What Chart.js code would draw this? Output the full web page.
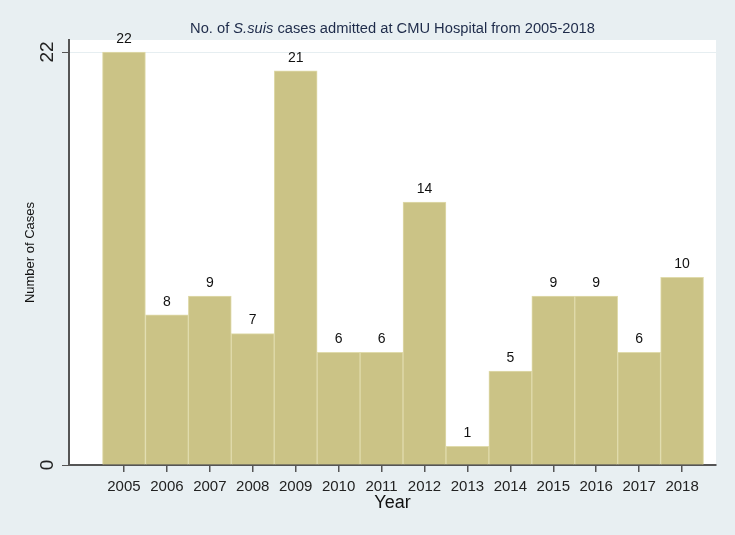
<!DOCTYPE html>
<html>
<head>
<meta charset="utf-8">
<script src="https://cdn.jsdelivr.net/npm/chart.js@4"></script>
<style>
  body { margin: 0; background: #e8eff2; }
</style>
</head>
<body>
<canvas id="myChart" width="735" height="535"></canvas>
<script>
const years = [2005, 2006, 2007, 2008, 2009, 2010, 2011, 2012, 2013, 2014, 2015, 2016, 2017, 2018];
const cases = [22, 8, 9, 7, 21, 6, 6, 14, 1, 5, 9, 9, 6, 10];
const yTicks = [0, 22];

const FONT = "'Liberation Sans', Arial, sans-serif";

// background + white plot region
const bgPlugin = {
    id: 'bg',
    beforeDraw: (chart) => {
        const ctx = chart.ctx;
        const a = chart.chartArea;
        ctx.save();
        ctx.fillStyle = '#e8eff2';
        ctx.fillRect(0, 0, chart.width, chart.height);
        ctx.fillStyle = '#ffffff';
        ctx.fillRect(a.left, a.top, a.right - a.left, a.bottom - a.top);
        ctx.restore();
    }
};

// title with italic species name, bar value labels, rotated y tick labels
const textPlugin = {
    id: 'texts',
    afterDraw: (chart) => {
        const ctx = chart.ctx;
        const a = chart.chartArea;
        ctx.save();

        // title
        const parts = [
            ['No. of ', 'normal'],
            ['S.suis', 'italic'],
            [' cases admitted at CMU Hospital from 2005-2018', 'normal']
        ];
        let total = 0;
        parts.forEach(p => {
            ctx.font = p[1] + ' 14.7px ' + FONT;
            total += ctx.measureText(p[0]).width;
        });
        let x = (a.left + a.right) / 2 - total / 2;
        ctx.fillStyle = '#1e2b4a';
        ctx.textBaseline = 'middle';
        ctx.textAlign = 'left';
        parts.forEach(p => {
            ctx.font = p[1] + ' 14.7px ' + FONT;
            ctx.fillText(p[0], x, 29);
            x += ctx.measureText(p[0]).width;
        });

        // values over bars
        const meta = chart.getDatasetMeta(0);
        ctx.font = '14px ' + FONT;
        ctx.fillStyle = '#111';
        ctx.textAlign = 'center';
        ctx.textBaseline = 'bottom';
        meta.data.forEach((bar, i) => {
            ctx.fillText(String(cases[i]), bar.x, bar.y - 6);
        });

        // y tick labels, reading bottom to top
        const ys = chart.scales.y;
        ctx.font = '19px ' + FONT;
        ctx.fillStyle = '#222';
        ctx.textBaseline = 'middle';
        yTicks.forEach(v => {
            ctx.save();
            ctx.translate(48, ys.getPixelForValue(v));
            ctx.rotate(-Math.PI / 2);
            ctx.fillText(String(v), 0, 0);
            ctx.restore();
        });
        ctx.restore();
    }
};

const data = {
    datasets: [{
        label: 'Cases',
        data: years.map((yr, i) => ({ x: yr, y: cases[i] })),
        backgroundColor: '#cbc386',
        borderColor: '#e0dbac',
        borderWidth: { top: 1, left: 1, right: 1, bottom: 0 },
        borderSkipped: false,
        barPercentage: 1,
        categoryPercentage: 1
    }]
};

const config = {
    type: 'bar',
    data,
    options: {
        responsive: false,
        animation: false,
        devicePixelRatio: 1,
        layout: { padding: { top: 40, right: 19, left: 0, bottom: 0 } },
        plugins: {
            legend: { display: false },
            tooltip: { enabled: false }
        },
        scales: {
            x: {
                type: 'linear',
                offset: false,
                min: 2003.72,
                max: 2018.79,
                afterBuildTicks: (s) => { s.ticks = years.map(v => ({ value: v })); },
                afterFit: (s) => { s.height = 70; },
                grid: { offset: false, drawOnChartArea: false, drawTicks: true, tickLength: 7, tickColor: '#555', lineWidth: 1.5 },
                border: { color: '#555', width: 2 },
                ticks: {
                    color: '#222',
                    font: { family: FONT, size: 15 },
                    padding: 6,
                    maxRotation: 0,
                    autoSkip: false,
                    callback: (v) => String(v)
                },
                title: {
                    display: true,
                    text: 'Year',
                    color: '#111',
                    font: { family: FONT, size: 18 },
                    padding: { top: 0, bottom: 21 }
                }
            },
            y: {
                min: 0,
                max: 22.64,
                afterBuildTicks: (s) => { s.ticks = yTicks.map(v => ({ value: v })); },
                afterFit: (s) => { s.width = 69; },
                grid: { color: '#e6eef1', lineWidth: 1, drawTicks: true, tickLength: 7, tickColor: '#555' },
                border: { color: '#555', width: 2 },
                ticks: { display: false },
                title: {
                    display: true,
                    text: 'Number of Cases',
                    color: '#111',
                    font: { family: FONT, size: 13 },
                    padding: { top: 23, bottom: 0 }
                }
            }
        }
    },
    plugins: [bgPlugin, textPlugin]
};

const myChart = new Chart(document.getElementById('myChart'), config);
</script>
</body>
</html>
